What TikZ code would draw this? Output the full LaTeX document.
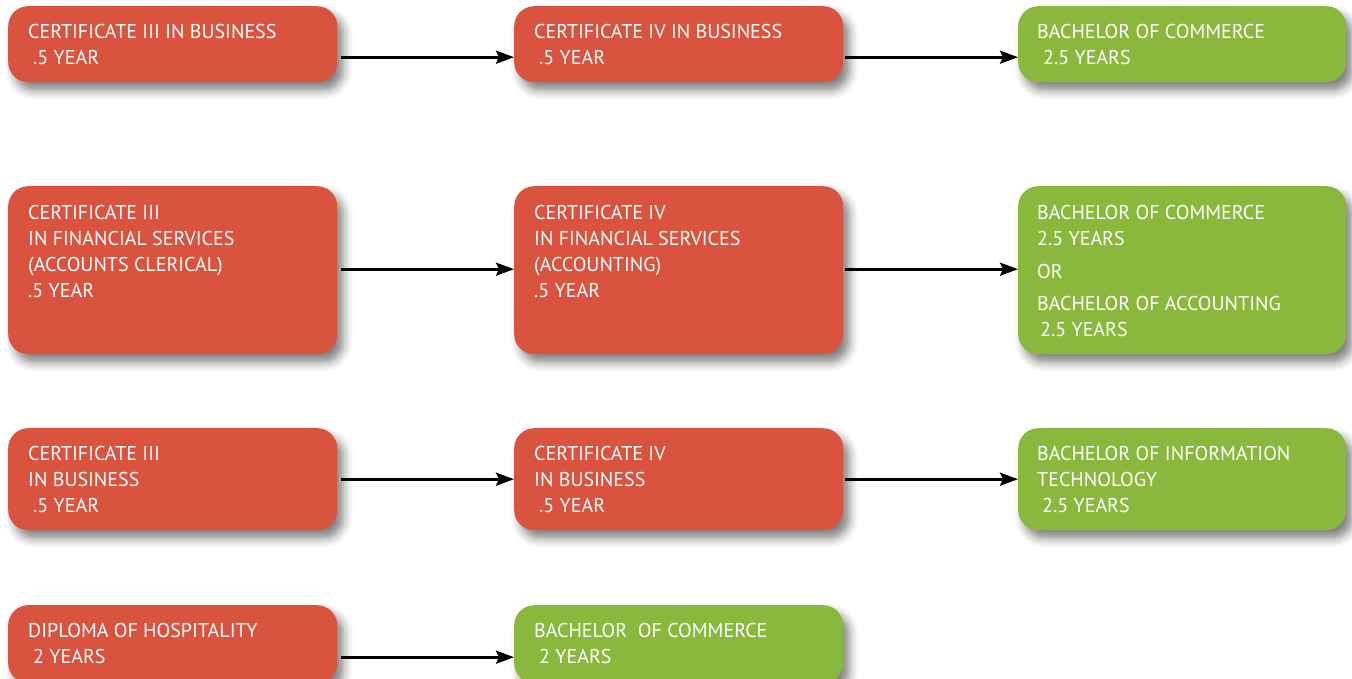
\documentclass[tikz,border=0pt]{standalone}
\usepackage{fontspec}
\setmainfont{PT Sans}
\usetikzlibrary{shadows.blur,arrows.meta,calc}
\definecolor{redbox}{HTML}{D9533F}
\definecolor{greenbox}{HTML}{8AB83D}
\begin{document}
\begin{tikzpicture}[x=1pt,y=-1pt,
  box/.style={rectangle, rounded corners=20pt, minimum width=329pt, anchor=north west, inner sep=0pt,
    blur shadow={shadow xshift=6pt, shadow yshift=-8pt, shadow blur radius=9pt, shadow opacity=50}},
  redb/.style={box, fill=redbox},
  greenb/.style={box, fill=greenbox},
  lbl/.style={anchor=north west, text=white, font=\fontsize{20}{26}\selectfont, align=left, inner sep=0pt},
  conn/.style={line width=2.8pt, -{Stealth[length=18pt,width=13pt,inset=3pt]}}]
\useasboundingbox (0,0) rectangle (1352,679);
\clip (0,0) rectangle (1352,679);
% row 1
\node[redb, minimum height=76pt] (a1) at (8,6) {};
\node[redb, minimum height=76pt] (a2) at (514,6) {};
\node[greenb, minimum height=76pt, minimum width=328pt] (a3) at (1018,6) {};
% row 2
\node[redb, minimum height=168pt] (b1) at (8,186) {};
\node[redb, minimum height=168pt] (b2) at (514,186) {};
\node[greenb, minimum height=168pt, minimum width=328pt] (b3) at (1018,186) {};
% row 3
\node[redb, minimum height=102pt] (c1) at (8,428) {};
\node[redb, minimum height=102pt] (c2) at (514,428) {};
\node[greenb, minimum height=102pt, minimum width=328pt] (c3) at (1018,428) {};
% row 4
\node[redb, minimum height=78pt] (d1) at (8,605) {};
\node[greenb, minimum height=78pt] (d2) at (514,605) {};
% labels
\node[lbl] (ta1) at ($(a1.north west)+(20,18)$) {CERTIFICATE III IN BUSINESS\\\hspace*{5pt}.5 YEAR};
\node[lbl] (ta2) at ($(a2.north west)+(20,18)$) {CERTIFICATE IV IN BUSINESS\\\hspace*{5pt}.5 YEAR};
\node[lbl] (ta3) at ($(a3.north west)+(19,18)$) {BACHELOR OF COMMERCE\\\hspace*{6pt}2.5 YEARS};
\node[lbl] (tb1) at ($(b1.north west)+(20,19)$) {CERTIFICATE III\\IN FINANCIAL SERVICES\\(ACCOUNTS CLERICAL)\\.5 YEAR};
\node[lbl] (tb2) at ($(b2.north west)+(20,19)$) {CERTIFICATE IV\\IN FINANCIAL SERVICES\\(ACCOUNTING)\\.5 YEAR};
\node[lbl] (tb3) at ($(b3.north west)+(19,19)$) {BACHELOR OF COMMERCE\\2.5 YEARS\\[7pt]OR\\[6pt]BACHELOR OF ACCOUNTING\\\hspace*{3pt}2.5 YEARS};
\node[lbl] (tc1) at ($(c1.north west)+(20,18)$) {CERTIFICATE III\\IN BUSINESS\\\hspace*{5pt}.5 YEAR};
\node[lbl] (tc2) at ($(c2.north west)+(20,18)$) {CERTIFICATE IV\\IN BUSINESS\\\hspace*{5pt}.5 YEAR};
\node[lbl] (tc3) at ($(c3.north west)+(19,18)$) {BACHELOR OF INFORMATION\\TECHNOLOGY\\\hspace*{5pt}2.5 YEARS};
\node[lbl] (td1) at ($(d1.north west)+(20,18)$) {DIPLOMA OF HOSPITALITY\\\hspace*{5pt}2 YEARS};
\node[lbl] (td2) at ($(d2.north west)+(20,18)$) {BACHELOR\ \ OF COMMERCE\\\hspace*{5pt}2 YEARS};
% connectors
\draw[conn] ($(a1.east)+(4,13)$) -- ($(a2.west)+(0,13)$);
\draw[conn] ($(a2.east)+(2,13)$) -- ($(a3.west)+(0,13)$);
\draw[conn] ($(b1.east)+(4,-1)$) -- ($(b2.west)+(0,-1)$);
\draw[conn] ($(b2.east)+(2,-1)$) -- ($(b3.west)+(0,-1)$);
\draw[conn] ($(c1.east)+(4,0)$) -- ($(c2.west)+(0,0)$);
\draw[conn] ($(c2.east)+(2,0)$) -- ($(c3.west)+(0,0)$);
\draw[conn] ($(d1.east)+(4,13)$) -- ($(d2.west)+(0,13)$);
\end{tikzpicture}
\end{document}
